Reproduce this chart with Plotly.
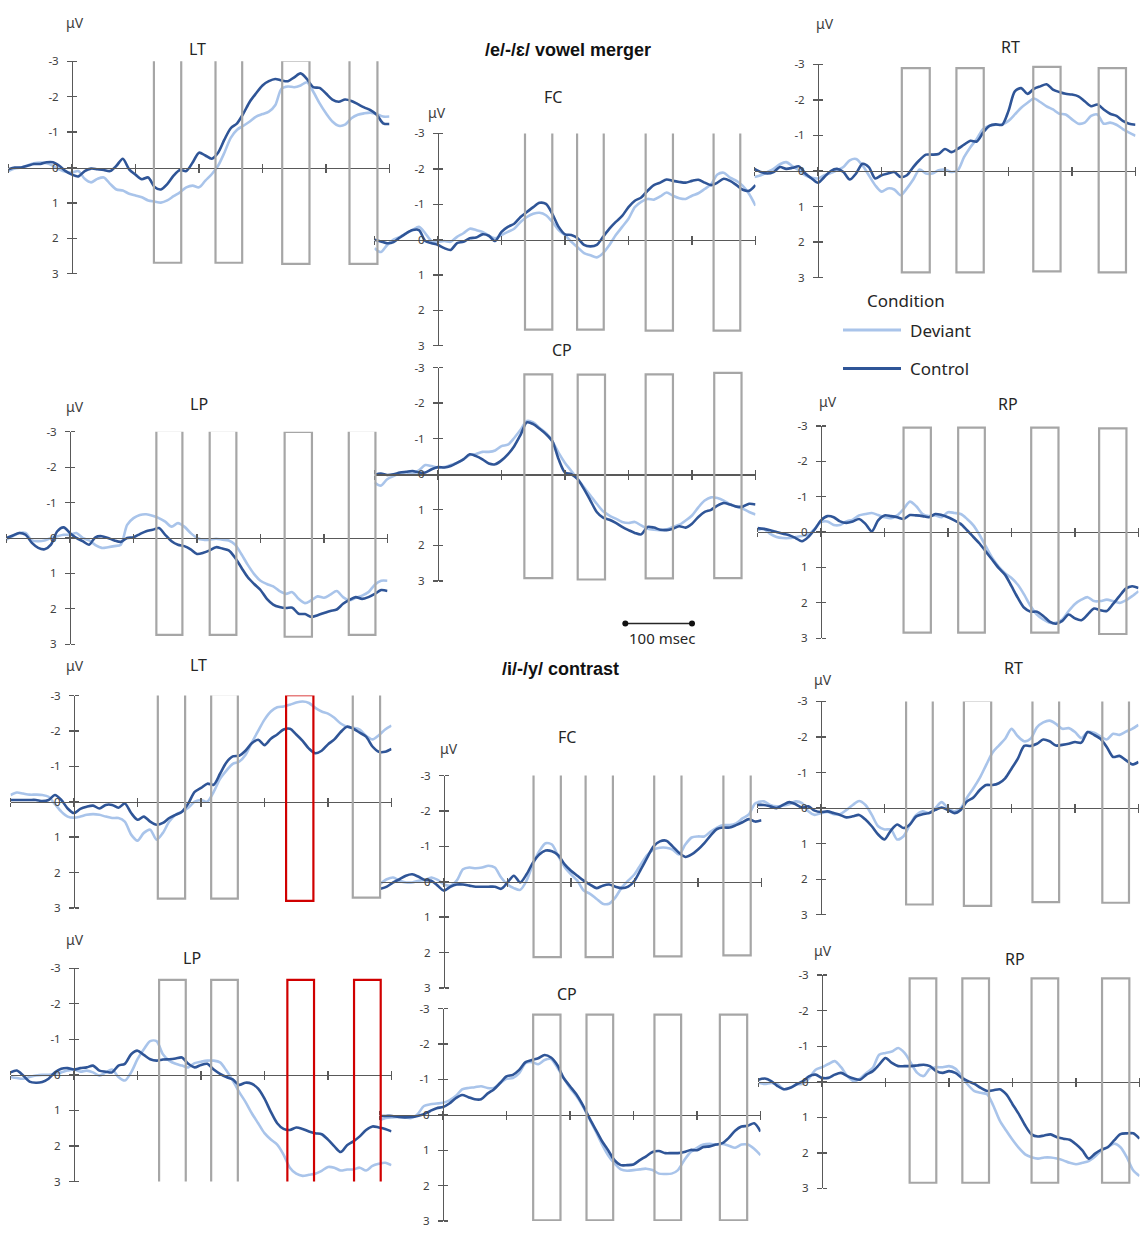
import plotly.graph_objects as go

# ---------------- data ----------------
TIME_MS = list(range(-100, 501, 10))
TIME_TICKS = [-100, 0, 100, 200, 300, 400, 500]
UV_TICKS = [-3, -2, -1, 0, 1, 2, 3]
UV_TICK_TEXT = ["-3", "-2", "-1", "0", "1", "2", "3"]

# /e/-/ɛ/ vowel merger
LT_E_CONTROL = [0.05,0.0,0.0,-0.05,-0.1,-0.1,-0.15,-0.15,-0.05,0.1, 0.2,0.25,0.1,0.03,0.05,0.07,0.1,-0.05,-0.25,0.05,
                0.2,0.33,0.28,0.55,0.62,0.47,0.23,0.07,0.1,-0.14, -0.42,-0.34,-0.25,-0.42,-0.79,-1.11,-1.25,-1.53,-1.86,-2.1,
                -2.32,-2.44,-2.5,-2.46,-2.44,-2.55,-2.66,-2.5,-2.27,-2.25, -2.09,-1.92,-1.86,-1.92,-1.88,-1.79,-1.7,-1.62,-1.49,-1.25, -1.23]
LT_E_DEVIANT = [0.1,0.03,0.0,-0.06,-0.12,-0.14,-0.12,-0.05,0.05,0.12, 0.14,0.1,0.32,0.42,0.32,0.28,0.46,0.62,0.65,0.74,
                0.79,0.84,0.93,0.96,0.99,0.93,0.81,0.7,0.56,0.51, 0.56,0.37,0.19,-0.05,-0.42,-0.84,-1.07,-1.18,-1.3,-1.44,
                -1.51,-1.58,-1.76,-2.23,-2.29,-2.27,-2.32,-2.41,-2.14,-1.81, -1.53,-1.3,-1.18,-1.21,-1.39,-1.49,-1.53,-1.55,-1.51,-1.44, -1.44]
LT_E_WINDOWS = [(129, 172), (226, 268), (331, 374), (437, 481)]
LT_E_BOX_TOP = [-3.06, -3.06, -3.02, -3.04]
LT_E_BOX_BOTTOM = [2.69, 2.69, 2.72, 2.72]
LT_E_RED = [False, False, False, False]

LP_E_CONTROL = [0.0,-0.07,-0.14,-0.09,0.14,0.28,0.32,0.19,-0.19,-0.3, -0.14,0.0,0.09,0.19,-0.02,-0.05,0.0,0.07,0.11,0.0,
                -0.02,-0.11,-0.19,-0.23,-0.28,-0.09,0.09,0.19,0.23,0.32, 0.45,0.42,0.35,0.26,0.3,0.35,0.56,0.84,1.11,1.3,
                1.47,1.72,1.88,1.95,1.98,1.97,2.14,2.15,2.23,2.18, 2.12,2.06,2.02,1.86,1.75,1.67,1.72,1.67,1.58,1.47, 1.5]
LP_E_DEVIANT = [0.05,-0.05,-0.14,-0.14,0.07,0.09,0.07,0.0,-0.05,-0.09, -0.09,-0.14,0.0,0.07,0.2,0.28,0.26,0.23,0.19,-0.37,
                -0.56,-0.65,-0.67,-0.63,-0.56,-0.46,-0.32,-0.42,-0.32,-0.14, 0.0,0.05,0.05,0.02,0.05,0.07,0.19,0.46,0.76,1.02,
                1.21,1.3,1.37,1.5,1.58,1.53,1.72,1.84,1.76,1.65, 1.69,1.6,1.5,1.67,1.76,1.69,1.63,1.53,1.32,1.21, 1.21]
LP_E_WINDOWS = [(136, 177), (220, 262), (338, 381), (439, 481)]
LP_E_BOX_TOP = [-3.04, -3.04, -3.0, -3.04]
LP_E_BOX_BOTTOM = [2.74, 2.74, 2.79, 2.74]
LP_E_RED = [False, False, False, False]

FC_E_CONTROL = [0.0,0.05,0.1,0.07,-0.06,-0.18,-0.27,-0.27,0.04,0.1, 0.15,0.24,0.29,0.1,0.06,-0.04,-0.06,-0.15,-0.11,0.04,
                -0.22,-0.36,-0.45,-0.64,-0.78,-0.92,-1.04,-1.01,-0.73,-0.36, -0.15,-0.13,-0.04,0.15,0.19,0.15,-0.08,-0.31,-0.5,-0.67,
                -0.92,-1.1,-1.19,-1.38,-1.54,-1.61,-1.7,-1.66,-1.63,-1.61, -1.66,-1.69,-1.61,-1.54,-1.61,-1.72,-1.66,-1.54,-1.41,-1.38, -1.54]
FC_E_DEVIANT = [0.24,0.35,0.15,0.0,-0.08,-0.18,-0.27,-0.36,-0.18,0.04, 0.06,0.04,0.06,-0.08,-0.18,-0.31,-0.27,-0.22,-0.11,-0.04,
                -0.13,-0.22,-0.31,-0.5,-0.64,-0.73,-0.76,-0.69,-0.5,-0.27, -0.13,0.06,0.22,0.38,0.44,0.5,0.38,0.15,-0.13,-0.36,
                -0.59,-0.92,-1.07,-1.15,-1.13,-1.22,-1.33,-1.24,-1.17,-1.15, -1.24,-1.31,-1.43,-1.56,-1.84,-1.89,-1.75,-1.66,-1.52,-1.29, -0.96]
FC_E_WINDOWS = [(137, 180), (219, 261), (327, 370), (434, 476)]
FC_E_BOX_TOP = [-3.2, -3.2, -3.18, -3.18]
FC_E_BOX_BOTTOM = [2.54, 2.54, 2.57, 2.57]
FC_E_RED = [False, False, False, False]

CP_E_CONTROL = [0.02,-0.02,0.02,0.0,-0.05,-0.07,-0.09,-0.05,-0.05,-0.14, -0.2,-0.19,-0.23,-0.32,-0.42,-0.56,-0.51,-0.42,-0.3,-0.28,
                -0.39,-0.56,-0.79,-1.11,-1.46,-1.41,-1.28,-1.13,-0.93,-0.42, -0.05,0.0,0.14,0.42,0.74,1.06,1.22,1.28,1.37,1.48,
                1.57,1.65,1.69,1.48,1.5,1.56,1.57,1.53,1.46,1.5, 1.39,1.2,1.06,1.0,0.88,0.81,0.85,0.91,0.91,0.83, 0.85]
CP_E_DEVIANT = [0.23,0.32,0.14,0.05,-0.02,-0.05,-0.02,-0.11,-0.26,-0.23, -0.19,-0.2,-0.26,-0.32,-0.42,-0.54,-0.57,-0.63,-0.63,-0.67,
                -0.79,-0.83,-1.02,-1.25,-1.5,-1.46,-1.3,-1.16,-0.93,-0.6, -0.32,-0.09,0.14,0.37,0.6,0.83,1.04,1.16,1.25,1.34,
                1.37,1.34,1.44,1.53,1.56,1.57,1.55,1.48,1.42,1.3, 1.16,0.93,0.74,0.65,0.67,0.74,0.85,0.91,0.97,1.06, 1.13]
CP_E_WINDOWS = [(136, 180), (220, 263), (327, 370), (435, 478)]
CP_E_BOX_TOP = [-2.81, -2.8, -2.81, -2.85]
CP_E_BOX_BOTTOM = [2.92, 2.96, 2.93, 2.92]
CP_E_RED = [False, False, False, False]

RT_E_CONTROL = [-0.06,0.03,0.07,0.03,-0.11,-0.06,-0.09,-0.13,0.07,0.21, 0.33,0.17,0.0,-0.06,0.03,0.24,0.07,-0.2,-0.11,0.21,
                0.12,0.07,0.03,0.17,0.12,-0.11,-0.31,-0.46,-0.46,-0.48, -0.62,-0.53,-0.62,-0.74,-0.85,-0.83,-1.08,-1.27,-1.31,-1.3,
                -1.69,-2.24,-2.33,-2.17,-2.31,-2.38,-2.44,-2.29,-2.22,-2.17, -2.15,-2.1,-1.96,-1.82,-1.87,-1.73,-1.61,-1.55,-1.41,-1.33, -1.3]
RT_E_DEVIANT = [0.17,0.12,0.03,-0.06,-0.19,-0.25,-0.13,-0.02,0.12,0.19, 0.21,0.12,0.06,-0.02,-0.11,-0.3,-0.34,-0.16,0.12,0.4,
                0.58,0.49,0.52,0.68,0.49,0.24,-0.04,0.07,0.07,-0.02, -0.04,0.03,-0.02,-0.39,-0.67,-0.9,-1.18,-1.27,-1.3,-1.31,
                -1.41,-1.59,-1.78,-1.92,-2.04,-1.94,-1.82,-1.73,-1.61,-1.59, -1.45,-1.33,-1.36,-1.55,-1.59,-1.33,-1.36,-1.3,-1.18,-1.08, -0.99]
RT_E_WINDOWS = [(132, 176), (218, 261), (339, 382), (442, 485)]
RT_E_BOX_TOP = [-2.89, -2.89, -2.93, -2.89]
RT_E_BOX_BOTTOM = [2.85, 2.85, 2.82, 2.85]
RT_E_RED = [False, False, False, False]

RP_E_CONTROL = [-0.11,-0.09,-0.05,0.0,0.05,0.09,0.17,0.26,0.14,-0.07, -0.33,-0.45,-0.42,-0.3,-0.26,-0.3,-0.37,-0.23,-0.02,-0.33,
                -0.47,-0.45,-0.42,-0.37,-0.48,-0.47,-0.45,-0.42,-0.51,-0.48, -0.42,-0.33,-0.23,-0.05,0.14,0.33,0.56,0.79,1.02,1.21,
                1.53,1.86,2.14,2.25,2.25,2.37,2.53,2.59,2.51,2.33, 2.44,2.49,2.33,2.16,2.21,2.23,2.03,1.81,1.6,1.53, 1.58]
RP_E_DEVIANT = [-0.05,-0.09,0.05,0.14,0.17,0.17,0.14,0.11,0.07,-0.09, -0.28,-0.3,-0.2,-0.2,-0.3,-0.35,-0.47,-0.51,-0.54,-0.48,
                -0.42,-0.39,-0.47,-0.65,-0.86,-0.73,-0.51,-0.45,-0.47,-0.42, -0.56,-0.54,-0.51,-0.37,-0.19,0.09,0.42,0.74,0.98,1.16,
                1.3,1.49,1.77,2.09,2.33,2.47,2.56,2.56,2.47,2.23, 2.03,1.91,1.84,1.95,1.95,1.91,1.95,2.0,1.93,1.81, 1.67]
RP_E_WINDOWS = [(130, 173), (216, 258), (331, 374), (438, 481)]
RP_E_BOX_TOP = [-2.95, -2.95, -2.95, -2.93]
RP_E_BOX_BOTTOM = [2.84, 2.84, 2.84, 2.88]
RP_E_RED = [False, False, False, False]

# /i/-/y/ contrast
LT_I_CONTROL = [-0.05,-0.05,-0.05,-0.05,-0.05,-0.02,-0.05,-0.19,-0.05,0.19, 0.32,0.2,0.14,0.11,0.19,0.09,0.09,0.17,0.05,0.32,
                0.51,0.42,0.56,0.65,0.6,0.46,0.37,0.28,0.05,-0.28, -0.39,-0.51,-0.48,-0.79,-1.11,-1.28,-1.3,-1.44,-1.65,-1.75,
                -1.6,-1.78,-1.9,-2.04,-2.06,-1.9,-1.72,-1.5,-1.37,-1.44, -1.62,-1.76,-1.97,-2.12,-2.06,-1.95,-1.84,-1.56,-1.41,-1.41, -1.49]
LT_I_DEVIANT = [-0.19,-0.26,-0.23,-0.2,-0.2,-0.19,-0.14,0.07,0.28,0.42, 0.45,0.42,0.37,0.35,0.37,0.42,0.46,0.46,0.56,0.93,
                1.1,0.88,0.79,1.07,0.88,0.56,0.37,0.28,0.17,0.0, -0.05,0.0,-0.28,-0.65,-0.88,-1.07,-1.13,-1.32,-1.67,-2.0,
                -2.32,-2.55,-2.67,-2.69,-2.74,-2.8,-2.83,-2.79,-2.65,-2.55, -2.49,-2.37,-2.21,-2.12,-2.09,-2.04,-1.86,-1.76,-1.88,-2.04, -2.15]
LT_I_WINDOWS = [(132, 175), (216, 258), (334, 377), (439, 482)]
LT_I_BOX_TOP = [-3.06, -3.04, -3.01, -3.06]
LT_I_BOX_BOTTOM = [2.74, 2.74, 2.8, 2.71]
LT_I_RED = [False, False, True, False]

LP_I_CONTROL = [-0.07,-0.12,0.02,0.19,0.22,0.2,0.11,-0.07,-0.17,-0.19, -0.15,-0.19,-0.21,-0.26,-0.12,-0.09,-0.07,-0.26,-0.31,-0.58,
                -0.68,-0.56,-0.44,-0.4,-0.43,-0.44,-0.46,-0.49,-0.31,-0.21, -0.28,-0.31,-0.15,-0.03,0.06,0.13,0.28,0.22,0.25,0.39,
                0.67,1.04,1.36,1.52,1.55,1.48,1.52,1.59,1.64,1.67, 1.82,2.01,2.17,1.98,1.87,1.73,1.55,1.45,1.48,1.52, 1.59]
LP_I_DEVIANT = [0.06,0.09,0.11,0.06,0.02,0.0,0.0,-0.03,-0.07,-0.12, -0.15,-0.09,-0.12,-0.07,0.02,-0.07,-0.15,0.06,0.16,-0.07,
                -0.44,-0.72,-0.95,-0.95,-0.58,-0.4,-0.31,-0.26,-0.21,-0.33, -0.37,-0.4,-0.4,-0.35,-0.12,0.16,0.48,0.76,1.08,1.36,
                1.64,1.82,1.96,2.24,2.61,2.78,2.84,2.81,2.78,2.7, 2.59,2.61,2.69,2.66,2.66,2.61,2.69,2.56,2.5,2.47, 2.54]
LP_I_WINDOWS = [(134, 176), (216, 258), (336, 378), (441, 483)]
LP_I_BOX_TOP = [-2.67, -2.67, -2.67, -2.67]
LP_I_BOX_BOTTOM = [3.1, 3.1, 3.1, 3.1]
LP_I_RED = [False, False, True, True]

FC_I_CONTROL = [0.2,0.14,0.02,-0.07,-0.17,-0.21,-0.14,-0.05,-0.03,0.11, 0.25,0.14,0.08,0.08,0.11,0.14,0.14,0.14,0.14,0.2,
                0.02,-0.17,0.02,-0.21,-0.54,-0.77,-0.88,-0.86,-0.75,-0.49, -0.31,-0.17,-0.03,0.08,0.18,0.11,0.08,0.14,0.18,0.14,
                -0.03,-0.35,-0.68,-1.0,-1.14,-1.16,-1.0,-0.82,-0.7,-0.77, -0.91,-1.09,-1.31,-1.49,-1.53,-1.53,-1.6,-1.68,-1.77,-1.7, -1.74]
FC_I_DEVIANT = [0.06,-0.07,-0.12,-0.03,0.02,0.02,-0.03,-0.05,-0.12,-0.05, 0.08,0.11,-0.03,-0.35,-0.4,-0.38,-0.4,-0.45,-0.4,-0.12,
                0.08,0.18,0.23,-0.03,-0.49,-0.86,-1.09,-1.05,-0.72,-0.42, -0.21,-0.03,0.25,0.34,0.48,0.62,0.62,0.44,0.16,-0.03,
                -0.21,-0.49,-0.75,-0.91,-0.96,-0.96,-0.91,-0.77,-1.05,-1.25, -1.28,-1.28,-1.42,-1.53,-1.6,-1.6,-1.65,-1.79,-1.9,-2.21, -2.25]
FC_I_WINDOWS = [(141, 184), (223, 266), (331, 374), (440, 483)]
FC_I_BOX_TOP = [-3.62, -3.62, -3.66, -3.71]
FC_I_BOX_BOTTOM = [2.13, 2.13, 2.11, 2.08]
FC_I_RED = [False, False, False, False]

CP_I_CONTROL = [0.03,0.03,0.03,0.06,0.07,0.06,0.03,-0.02,-0.11,-0.19, -0.22,-0.32,-0.47,-0.56,-0.5,-0.44,-0.44,-0.6,-0.72,-0.9,
                -1.09,-1.13,-1.27,-1.49,-1.55,-1.6,-1.69,-1.62,-1.41,-1.04, -0.81,-0.58,-0.28,0.07,0.4,0.73,1.0,1.28,1.42,1.42,
                1.4,1.28,1.17,1.05,1.02,1.08,1.08,1.08,1.05,0.99, 1.0,0.91,0.89,0.84,0.8,0.65,0.45,0.33,0.31,0.24, 0.47]
CP_I_DEVIANT = [0.15,0.09,0.07,0.06,0.07,0.09,-0.02,-0.25,-0.3,-0.32, -0.34,-0.41,-0.53,-0.72,-0.76,-0.78,-0.81,-0.76,-0.76,-0.9,
                -1.02,-1.04,-1.18,-1.46,-1.49,-1.43,-1.55,-1.58,-1.34,-1.04, -0.76,-0.53,-0.25,0.09,0.45,0.82,1.14,1.37,1.54,1.58,
                1.56,1.54,1.52,1.56,1.66,1.67,1.66,1.56,1.28,1.05, 0.93,0.84,0.82,0.84,0.82,0.87,0.93,0.84,0.84,0.96, 1.14]
CP_I_WINDOWS = [(142, 185), (226, 268), (333, 375), (436, 479)]
CP_I_BOX_TOP = [-2.83, -2.83, -2.83, -2.83]
CP_I_BOX_BOTTOM = [2.98, 2.98, 2.98, 2.98]
CP_I_RED = [False, False, False, False]

RT_I_CONTROL = [-0.09,-0.09,-0.05,0.0,-0.09,-0.17,-0.11,-0.02,-0.05,0.07, 0.11,0.09,0.14,0.19,0.26,0.23,0.19,0.32,0.51,0.74,
                0.88,0.63,0.46,0.56,0.46,0.23,0.17,0.14,0.05,-0.02, 0.05,0.14,0.05,-0.19,-0.3,-0.51,-0.65,-0.65,-0.7,-0.84,
                -1.11,-1.39,-1.75,-1.75,-1.81,-1.93,-1.88,-1.76,-1.78,-1.81, -1.86,-1.84,-2.14,-2.06,-1.95,-1.72,-1.44,-1.47,-1.35,-1.23, -1.3]
RT_I_DEVIANT = [-0.17,-0.19,-0.09,-0.05,-0.07,-0.11,-0.19,-0.14,0.09,0.19, 0.14,0.11,0.17,0.17,0.05,-0.09,-0.2,-0.09,0.19,0.51,
                0.6,0.6,0.88,0.79,0.46,0.19,0.09,0.14,0.0,-0.17, 0.0,0.09,0.0,-0.3,-0.56,-0.85,-1.21,-1.56,-1.76,-1.95,
                -2.23,-2.02,-1.88,-1.95,-2.27,-2.41,-2.46,-2.37,-2.23,-2.25, -2.14,-1.97,-2.14,-2.12,-2.02,-1.93,-2.09,-2.06,-2.15,-2.23, -2.34]
RT_I_WINDOWS = [(134, 176), (225, 268), (333, 375), (443, 485)]
RT_I_BOX_TOP = [-3.05, -3.02, -3.15, -3.13]
RT_I_BOX_BOTTOM = [2.71, 2.75, 2.64, 2.66]
RT_I_RED = [False, False, False, False]

RP_I_CONTROL = [-0.06,-0.09,-0.02,0.12,0.21,0.17,0.07,-0.02,-0.16,-0.2, -0.11,-0.11,-0.2,-0.25,-0.16,-0.09,-0.06,-0.2,-0.3,-0.48,
                -0.67,-0.53,-0.44,-0.44,-0.44,-0.46,-0.48,-0.44,-0.3,-0.25, -0.3,-0.25,-0.11,-0.02,0.06,0.17,0.26,0.24,0.21,0.35,
                0.63,0.91,1.23,1.48,1.54,1.51,1.48,1.56,1.6,1.63, 1.76,1.93,2.16,2.02,1.91,1.84,1.65,1.47,1.45,1.45, 1.6]
RP_I_DEVIANT = [0.03,0.06,0.03,0.07,0.21,0.17,0.07,0.06,-0.11,-0.34, -0.41,-0.5,-0.58,-0.41,-0.16,-0.02,-0.09,-0.25,-0.39,-0.76,
                -0.81,-0.85,-0.95,-0.81,-0.53,-0.25,-0.16,-0.37,-0.41,-0.41, -0.44,-0.37,-0.16,0.09,0.26,0.31,0.35,0.68,1.09,1.37,
                1.63,1.86,2.04,2.12,2.16,2.13,2.13,2.16,2.21,2.28, 2.32,2.28,2.23,2.1,1.93,1.84,1.74,1.84,2.12,2.49, 2.65]
RP_I_WINDOWS = [(138, 180), (221, 263), (330, 372), (441, 484)]
RP_I_BOX_TOP = [-2.91, -2.91, -2.91, -2.91]
RP_I_BOX_BOTTOM = [2.84, 2.84, 2.84, 2.84]
RP_I_RED = [False, False, False, False]

SERIES_NAMES = ["Deviant", "Control"]
SCALE_BAR_MS = (295, 400)
SCALE_BAR_LABEL = "100 msec"

# ---------------- layout (pixel geometry of the 1142x1233 page) ----------------
W, H = 1142, 1233
PX_PER_100MS = 63.5
FONT = "Noto Sans"
AX = "#595959"
C_DEV = "#a9c4ea"
C_CTL = "#2f5597"
C_BOX = "#a6a6a6"
C_RED = "#d00000"

PANELS = [
    dict(dev=LT_E_DEVIANT, ctl=LT_E_CONTROL, win=LT_E_WINDOWS, bt=LT_E_BOX_TOP, bb=LT_E_BOX_BOTTOM, red=LT_E_RED,
         X0=72, Yt=54, Yb=269, title="LT", tpos=(197, 42), uv=(75, 15)),
    dict(dev=LP_E_DEVIANT, ctl=LP_E_CONTROL, win=LP_E_WINDOWS, bt=LP_E_BOX_TOP, bb=LP_E_BOX_BOTTOM, red=LP_E_RED,
         X0=70, Yt=429, Yb=644, title="LP", tpos=(199, 401), uv=(75, 403)),
    dict(dev=FC_E_DEVIANT, ctl=FC_E_CONTROL, win=FC_E_WINDOWS, bt=FC_E_BOX_TOP, bb=FC_E_BOX_BOTTOM, red=FC_E_RED,
         X0=438, Yt=127, Yb=342, title="FC", tpos=(553, 90), uv=(437, 106)),
    dict(dev=CP_E_DEVIANT, ctl=CP_E_CONTROL, win=CP_E_WINDOWS, bt=CP_E_BOX_TOP, bb=CP_E_BOX_BOTTOM, red=CP_E_RED,
         X0=438, Yt=364, Yb=580, title="CP", tpos=(562, 346), uv=None),
    dict(dev=RT_E_DEVIANT, ctl=RT_E_CONTROL, win=RT_E_WINDOWS, bt=RT_E_BOX_TOP, bb=RT_E_BOX_BOTTOM, red=RT_E_RED,
         X0=818, Yt=57, Yb=273, title="RT", tpos=(1010, 39), uv=(825, 16)),
    dict(dev=RP_E_DEVIANT, ctl=RP_E_CONTROL, win=RP_E_WINDOWS, bt=RP_E_BOX_TOP, bb=RP_E_BOX_BOTTOM, red=RP_E_RED,
         X0=821, Yt=423, Yb=638, title="RP", tpos=(1008, 401), uv=(828, 398)),
    dict(dev=LT_I_DEVIANT, ctl=LT_I_CONTROL, win=LT_I_WINDOWS, bt=LT_I_BOX_TOP, bb=LT_I_BOX_BOTTOM, red=LT_I_RED,
         X0=74, Yt=696, Yb=911, title="LT", tpos=(198, 665), uv=(75, 666)),
    dict(dev=LP_I_DEVIANT, ctl=LP_I_CONTROL, win=LP_I_WINDOWS, bt=LP_I_BOX_TOP, bb=LP_I_BOX_BOTTOM, red=LP_I_RED,
         X0=74, Yt=972, Yb=1188, title="LP", tpos=(192, 962), uv=(75, 943)),
    dict(dev=FC_I_DEVIANT, ctl=FC_I_CONTROL, win=FC_I_WINDOWS, bt=FC_I_BOX_TOP, bb=FC_I_BOX_BOTTOM, red=FC_I_RED,
         X0=444, Yt=777, Yb=992, title="FC", tpos=(567, 738), uv=(449, 750)),
    dict(dev=CP_I_DEVIANT, ctl=CP_I_CONTROL, win=CP_I_WINDOWS, bt=CP_I_BOX_TOP, bb=CP_I_BOX_BOTTOM, red=CP_I_RED,
         X0=443, Yt=1013, Yb=1228, title="CP", tpos=(567, 998), uv=None),
    dict(dev=RT_I_DEVIANT, ctl=RT_I_CONTROL, win=RT_I_WINDOWS, bt=RT_I_BOX_TOP, bb=RT_I_BOX_BOTTOM, red=RT_I_RED,
         X0=821, Yt=702, Yb=918, title="RT", tpos=(1013, 668), uv=(823, 680)),
    dict(dev=RP_I_DEVIANT, ctl=RP_I_CONTROL, win=RP_I_WINDOWS, bt=RP_I_BOX_TOP, bb=RP_I_BOX_BOTTOM, red=RP_I_RED,
         X0=822, Yt=979, Yb=1195, title="RP", tpos=(1015, 963), uv=(823, 954)),
]


def px(x):
    return x / W


def py(y):
    return 1 - y / H


fig = go.Figure()
layout = dict(width=W, height=H, margin=dict(l=0, r=0, t=0, b=0, pad=0), autosize=False,
              paper_bgcolor="white", plot_bgcolor="rgba(0,0,0,0)", showlegend=False,
              font=dict(family=FONT, color="#404040"))
shapes = []
annotations = []

n_panels = len(PANELS)
for i, p in enumerate(PANELS, start=1):
    sx = "" if i == 1 else str(i)
    sx2 = str(i + n_panels)          # companion axes that draw the other half of each crossing tick
    xname, yname = "x" + sx, "y" + sx
    xname2, yname2 = "x" + sx2, "y" + sx2
    x0 = max(0.0, p["X0"] - PX_PER_100MS)
    x1 = min(float(W), p["X0"] + 5 * PX_PER_100MS)
    r0 = (x0 - p["X0"]) * 100 / PX_PER_100MS
    r1 = (x1 - p["X0"]) * 100 / PX_PER_100MS
    xdom = [px(x0), px(x1)]
    ydom = [py(p["Yb"]), py(p["Yt"])]
    xpos = py((p["Yt"] + p["Yb"]) / 2)
    ypos = px(p["X0"])
    common = dict(showgrid=False, zeroline=False, fixedrange=True)
    layout["xaxis" + sx] = dict(
        domain=xdom, range=[r0, r1], anchor="free", position=xpos, side="bottom",
        showline=True, linecolor=AX, linewidth=1.3,
        ticks="outside", ticklen=4, tickwidth=1.3, tickcolor=AX, tickvals=TIME_TICKS,
        showticklabels=False, **common)
    layout["xaxis" + sx2] = dict(
        domain=xdom, range=[r0, r1], anchor="free", position=xpos, side="top", overlaying=xname,
        showline=False, ticks="outside", ticklen=4, tickwidth=1.3, tickcolor=AX, tickvals=TIME_TICKS,
        showticklabels=False, **common)
    layout["yaxis" + sx] = dict(
        domain=ydom, range=[3, -3], anchor="free", position=ypos, side="left",
        showline=True, linecolor=AX, linewidth=1.3,
        ticks="outside", ticklen=5, tickwidth=1.3, tickcolor=AX, ticklabelstandoff=6,
        tickvals=UV_TICKS, ticktext=UV_TICK_TEXT, tickfont=dict(size=11.5, color="#404040", family=FONT),
        **common)
    layout["yaxis" + sx2] = dict(
        domain=ydom, range=[3, -3], anchor="free", position=ypos, side="right", overlaying=yname,
        showline=False, ticks="outside", ticklen=4, tickwidth=1.3, tickcolor=AX,
        tickvals=UV_TICKS, showticklabels=False, **common)

    # empty trace so the companion tick axes are drawn
    fig.add_trace(go.Scatter(x=[], y=[], xaxis=xname2, yaxis=yname2, mode="lines",
                             showlegend=False, hoverinfo="skip"))
    fig.add_trace(go.Scatter(x=TIME_MS, y=p["dev"], mode="lines", name=SERIES_NAMES[0],
                             line=dict(color=C_DEV, width=2.6, shape="spline", smoothing=0.8),
                             xaxis=xname, yaxis=yname, cliponaxis=False, hoverinfo="skip"))
    fig.add_trace(go.Scatter(x=TIME_MS, y=p["ctl"], mode="lines", name=SERIES_NAMES[1],
                             line=dict(color=C_CTL, width=2.6, shape="spline", smoothing=0.8),
                             xaxis=xname, yaxis=yname, cliponaxis=False, hoverinfo="skip"))

    for (w0, w1), top, bot, red in zip(p["win"], p["bt"], p["bb"], p["red"]):
        shapes.append(dict(type="rect", xref=xname, yref=yname, x0=w0, x1=w1, y0=top, y1=bot,
                           line=dict(color=C_RED if red else C_BOX, width=2.2),
                           fillcolor="rgba(0,0,0,0)", layer="above"))

    annotations.append(dict(text=p["title"], x=px(p["tpos"][0]), y=py(p["tpos"][1]), xref="paper", yref="paper",
                            showarrow=False, xanchor="center", yanchor="middle",
                            font=dict(size=16, color="#262626", family=FONT)))
    if p["uv"] is not None:
        annotations.append(dict(text="μV", x=px(p["uv"][0]), y=py(p["uv"][1]), xref="paper", yref="paper",
                                showarrow=False, xanchor="center", yanchor="middle",
                                font=dict(size=14, color="#404040", family=FONT)))

# section headers
for txt, hx, hy in [("<b>/e/-/ɛ/ vowel merger</b>", 568, 43), ("<b>/i/-/y/ contrast</b>", 560, 669)]:
    annotations.append(dict(text=txt, x=px(hx), y=py(hy), xref="paper", yref="paper",
                            xanchor="center", yanchor="middle", showarrow=False,
                            font=dict(size=18, color="#111111", family="Liberation Sans")))

# legend (drawn to match the original layout)
annotations.append(dict(text="Condition", x=px(865), y=py(296), xref="paper", yref="paper",
                        xanchor="left", yanchor="middle",
                        showarrow=False, font=dict(size=17, color="#262626", family=FONT)))
for name, col, yy in [(SERIES_NAMES[0], C_DEV, 326), (SERIES_NAMES[1], C_CTL, 365)]:
    shapes.append(dict(type="line", xref="paper", yref="paper", x0=px(843), x1=px(901), y0=py(yy), y1=py(yy),
                       line=dict(color=col, width=3)))
    annotations.append(dict(text=name, x=px(908), y=py(yy), xref="paper", yref="paper",
                            xanchor="left", yanchor="middle",
                            showarrow=False, font=dict(size=17, color="#262626", family=FONT)))

# 100 msec scale bar, drawn on the top CP panel's time scale
shapes.append(dict(type="line", xref="x4", yref="paper", x0=SCALE_BAR_MS[0], x1=SCALE_BAR_MS[1],
                   y0=py(623), y1=py(623), line=dict(color="#262626", width=1.5)))
for xm in SCALE_BAR_MS:
    shapes.append(dict(type="circle", xref="x4", yref="paper", xsizemode="pixel", ysizemode="pixel",
                       xanchor=xm, yanchor=py(623), x0=-3, x1=3, y0=-3, y1=3,
                       fillcolor="#111111", line=dict(color="#111111", width=0)))
annotations.append(dict(text=SCALE_BAR_LABEL, x=px(662), y=py(638), xref="paper", yref="paper",
                        xanchor="center", yanchor="middle",
                        showarrow=False, font=dict(size=15, color="#262626", family=FONT)))

layout["shapes"] = shapes
layout["annotations"] = annotations
fig.update_layout(**layout)

fig.write_html("out.html", config={"displayModeBar": False, "staticPlot": True},
               post_script="document.documentElement.style.margin='0';document.body.style.margin='0';"
                           "document.body.style.padding='0';document.body.style.overflow='hidden';")
